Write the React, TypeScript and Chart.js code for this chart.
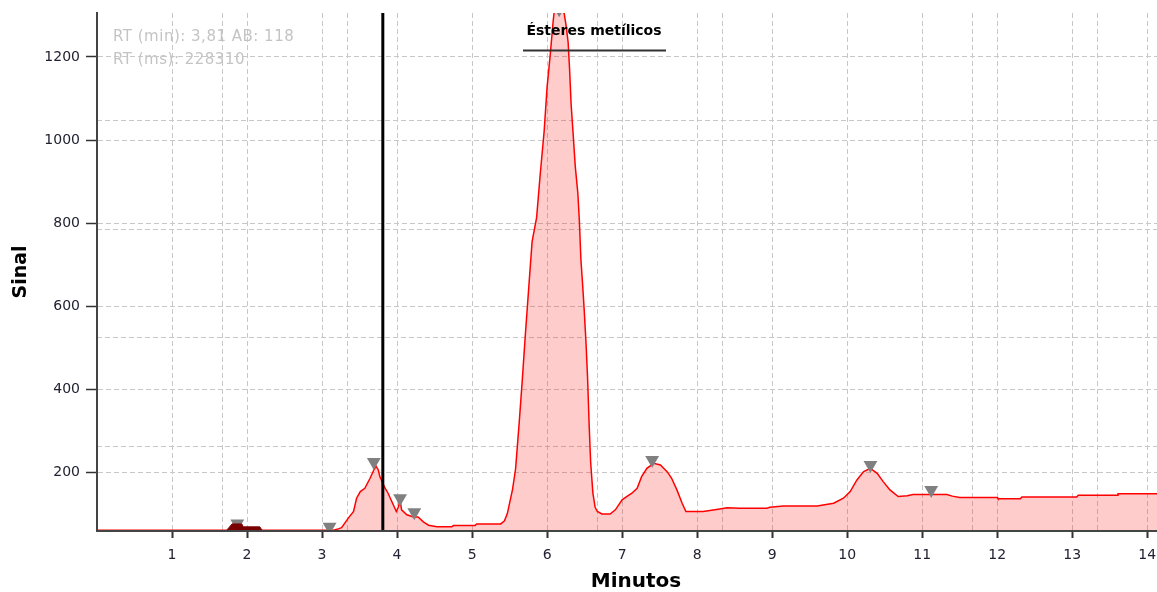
import { useEffect, useRef } from 'react';
import { Chart, registerables } from 'chart.js';

Chart.register(...registerables);

// Chromatogram signal (minutes / signal)
const signalMinutes = [
  0, 3.15, 3.2, 3.26, 3.35, 3.42, 3.46, 3.51, 3.57, 3.64, 3.69, 3.72, 3.75, 3.77, 3.84, 3.88, 3.94, 3.99,
  4.02, 4.04, 4.06, 4.13, 4.22, 4.28, 4.35, 4.42, 4.53, 4.73, 4.75, 5.04, 5.06, 5.38, 5.43, 5.47, 5.54,
  5.58, 5.63, 5.67, 5.71, 5.76, 5.8, 5.86, 5.91, 5.96, 6.0, 6.04, 6.08, 6.11, 6.2, 6.25, 6.28, 6.3, 6.32,
  6.345, 6.375, 6.41, 6.43, 6.45, 6.475, 6.495, 6.52, 6.54, 6.56, 6.58, 6.61, 6.64, 6.67, 6.73, 6.84, 6.91,
  7.0, 7.06, 7.13, 7.2, 7.26, 7.33, 7.42, 7.51, 7.6, 7.66, 7.73, 7.8, 7.85, 8.08, 8.26, 8.4, 8.57, 8.93,
  8.97, 9.15, 9.6, 9.82, 9.95, 10.04, 10.13, 10.22, 10.31, 10.4, 10.48, 10.57, 10.68, 10.8, 10.88, 11.33,
  11.4, 11.5, 12.0, 12.01, 12.31, 12.33, 13.06, 13.08, 13.6, 13.61, 14.2,
];
const signalValues = [
  60, 60, 62, 66, 89, 105, 137, 153, 161, 185, 205, 214, 205, 189, 161, 149, 125, 105,
  117, 133, 109, 97, 92, 92, 80, 72, 68, 68, 71, 71, 75, 75, 82, 100, 159,
  208, 324, 424, 531, 656, 755, 813, 921, 1020, 1128, 1202, 1285, 1335, 1335, 1280, 1236, 1169, 1086,
  1020, 937, 871, 805, 714, 647, 589, 506, 424, 316, 225, 150, 115, 105, 99, 99, 109,
  133, 141, 149, 161, 189, 209, 221, 217, 201, 185, 157, 125, 105, 105, 110, 114, 113, 113,
  115, 118, 118, 125, 137, 153, 181, 201, 209, 197, 177, 157, 141, 143, 146, 146,
  142, 139, 139, 136, 136, 140, 140, 144, 144, 148, 148,
];

// Detected peak markers
const peakMinutes = [1.87, 3.1, 3.69, 4.04, 4.23, 6.16, 7.4, 10.31, 11.12];
const peakValues = [76, 68, 224, 137, 103, 1315, 229, 217, 157];

// Integrated (highlighted) peak near 2 min
const integratedMinutes = [1.73, 1.8, 1.93, 1.95, 2.17, 2.2];
const integratedValues = [60, 75, 75, 68, 68, 60];

// Cursor line
const cursorMinute = 3.81;

// Axes
const xMin = 0;
const xMax = 14.13;
const yMin = 58;
const yMax = 1306;
const xTickValues = [1, 2, 3, 4, 5, 6, 7, 8, 9, 10, 11, 12, 13, 14];
const yTickValues = [200, 400, 600, 800, 1000, 1200];
const xMinorGrid = [1.667, 3.333, 5, 6.667, 8.333, 10, 11.667, 13.333];
const yMinorGrid = [261.5, 523, 784.5, 1046];

const xTitle = 'Minutos';
const yTitle = 'Sinal';
const annotationText = 'Ésteres metílicos';
const infoLines = ['RT (min): 3,81 AB: 118', 'RT (ms): 228310'];

const FONT = '"DejaVu Sans", sans-serif';
const GRID = '#c8c8c8';
const DASH = [5, 3];

export default function App() {
  const canvasRef = useRef<HTMLCanvasElement | null>(null);

  useEffect(() => {
    document.body.style.margin = '0';
    const canvas = canvasRef.current;
    if (!canvas) return;

    const textPlugin = {
      id: 'overlayText',
      afterDraw(chart: any) {
        const ctx = chart.ctx as CanvasRenderingContext2D;
        ctx.save();
        ctx.fillStyle = '#c4c4c4';
        ctx.font = `15px ${FONT}`;
        (ctx as any).letterSpacing = '0.5px';
        ctx.textAlign = 'left';
        ctx.textBaseline = 'middle';
        ctx.fillText(infoLines[0], 113, 37);
        ctx.fillText(infoLines[1], 113, 60);
        (ctx as any).letterSpacing = '0px';
        // x axis title
        ctx.fillStyle = '#000';
        ctx.font = `bold 20px ${FONT}`;
        ctx.textAlign = 'center';
        ctx.textBaseline = 'middle';
        ctx.fillText(xTitle, 636, 582);
        // annotation
        ctx.font = `bold 14px ${FONT}`;
        ctx.textBaseline = 'alphabetic';
        ctx.fillText(annotationText, 594, 35);
        ctx.strokeStyle = '#333';
        ctx.lineWidth = 2;
        ctx.beginPath();
        ctx.moveTo(523, 50.5);
        ctx.lineTo(666, 50.5);
        ctx.stroke();
        ctx.restore();
      },
    };

    const noPad = (s: any) => {
      s.paddingLeft = 0;
      s.paddingRight = 0;
      s.paddingTop = 0;
      s.paddingBottom = 0;
    };

    const chart = new Chart(canvas, {
      type: 'line',
      data: {
        datasets: [
          {
            data: [
              { x: cursorMinute, y: yMin },
              { x: cursorMinute, y: yMax },
            ],
            borderColor: '#000',
            borderWidth: 3,
            pointRadius: 0,
            fill: false,
            order: 0,
          },
          {
            data: integratedMinutes.map((m, i) => ({ x: m, y: integratedValues[i] })),
            borderColor: '#7a0000',
            backgroundColor: '#7a0000',
            borderWidth: 1,
            pointRadius: 0,
            fill: 'start',
            order: 1,
          },
          {
            data: peakMinutes.map((m, i) => ({ x: m, y: peakValues[i] })),
            showLine: false,
            pointStyle: 'triangle',
            rotation: 180,
            pointRadius: 8,
            pointBackgroundColor: '#808080',
            pointBorderColor: '#808080',
            pointBorderWidth: 0,
            clip: 0,
            order: 2,
          },
          {
            data: signalMinutes.map((m, i) => ({ x: m, y: signalValues[i] })),
            borderColor: '#ff0000',
            backgroundColor: 'rgba(255,0,0,0.2)',
            borderWidth: 1.5,
            pointRadius: 0,
            tension: 0,
            fill: 'start',
            order: 3,
          },
        ],
      },
      options: {
        animation: false,
        responsive: false,
        devicePixelRatio: 1,
        layout: { autoPadding: false, padding: { top: 13, right: 0, left: 0, bottom: 0 } },
        plugins: { legend: { display: false }, tooltip: { enabled: false } },
        scales: {
          x: {
            type: 'linear',
            position: 'bottom',
            min: xMin,
            max: xMax,
            afterBuildTicks: (s: any) => {
              s.ticks = xTickValues.map((v) => ({ value: v }));
            },
            afterFit: (s: any) => {
              s.height = 61;
              noPad(s);
            },
            ticks: {
              autoSkip: false,
              maxRotation: 0,
              padding: 9,
              color: '#222233',
              font: { family: FONT, size: 14 },
              callback: (v: any) => String(v),
            },
            grid: {
              color: GRID,
              lineWidth: 1,
              tickColor: '#333',
              tickLength: 7,
              tickWidth: 2,
              tickBorderDash: [],
            },
            border: { color: '#444', width: 2, dash: DASH, z: 1 },
          },
          xMinor: {
            type: 'linear',
            position: 'bottom',
            min: xMin,
            max: xMax,
            afterBuildTicks: (s: any) => {
              s.ticks = xMinorGrid.map((v) => ({ value: v }));
            },
            afterFit: (s: any) => {
              s.height = 0;
              noPad(s);
            },
            ticks: { display: false },
            grid: { color: GRID, lineWidth: 1, drawTicks: false },
            border: { display: false, dash: DASH },
          },
          y: {
            type: 'linear',
            position: 'left',
            min: yMin,
            max: yMax,
            afterBuildTicks: (s: any) => {
              s.ticks = yTickValues.map((v) => ({ value: v }));
            },
            afterFit: (s: any) => {
              s.width = 97;
              noPad(s);
            },
            ticks: {
              padding: 6,
              color: '#222233',
              font: { family: FONT, size: 14 },
              callback: (v: any) => String(v),
            },
            grid: {
              color: GRID,
              lineWidth: 1,
              tickColor: '#333',
              tickLength: 11,
              tickWidth: 1.5,
              tickBorderDash: [],
            },
            border: { color: '#444', width: 2, dash: DASH, z: 1 },
            title: {
              display: true,
              text: yTitle,
              color: '#000',
              font: { family: FONT, size: 19, weight: 'bold', lineHeight: 1 },
              padding: { top: 12, bottom: 0 },
            },
          },
          yMinor: {
            type: 'linear',
            position: 'left',
            min: yMin,
            max: yMax,
            afterBuildTicks: (s: any) => {
              s.ticks = yMinorGrid.map((v) => ({ value: v }));
            },
            afterFit: (s: any) => {
              s.width = 0;
              noPad(s);
            },
            ticks: { display: false },
            grid: { color: GRID, lineWidth: 1, drawTicks: false },
            border: { display: false, dash: DASH },
          },
        },
      } as any,
      plugins: [textPlugin],
    });

    return () => chart.destroy();
  }, []);

  return (
    <div style={{ position: 'absolute', left: 0, top: 0, width: 1157, height: 592 }}>
      <canvas ref={canvasRef} width={1157} height={592} style={{ display: 'block' }} />
    </div>
  );
}
